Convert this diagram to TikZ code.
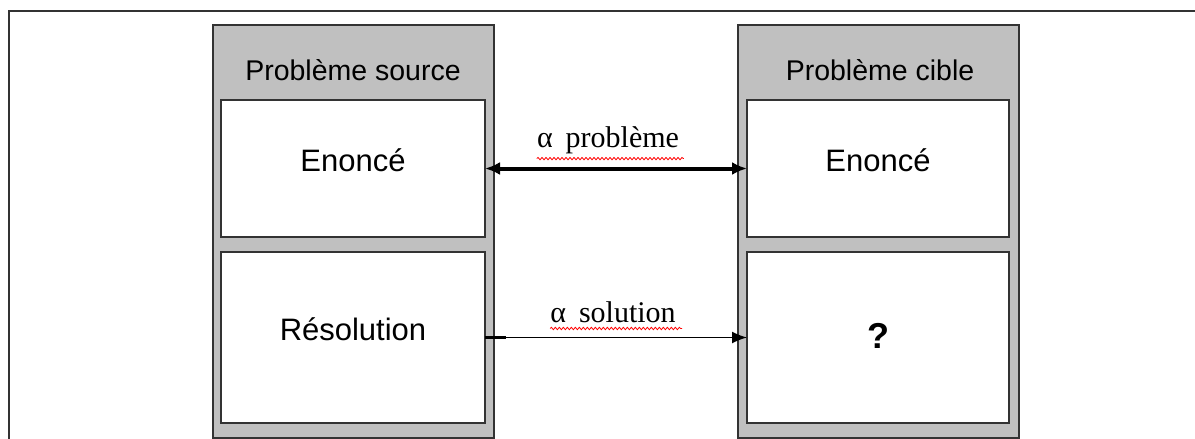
\documentclass[tikz,border=0pt]{standalone}
\usepackage{fontspec}
\setmainfont{Liberation Serif}
\newfontfamily\arialish{Liberation Sans}
\usetikzlibrary{arrows.meta,decorations.pathmorphing}

\definecolor{panelgray}{HTML}{C0C0C0}
\definecolor{edgecol}{HTML}{333333}

\tikzset{
  panel/.style={draw=edgecol, line width=2pt, fill=panelgray, inner sep=0pt, outer sep=0pt,
    minimum width=281pt, minimum height=413pt},
  cell/.style={draw=edgecol, line width=1.8pt, fill=white, inner sep=0pt, outer sep=0pt,
    minimum width=264pt},
  headtxt/.style={anchor=base, inner sep=0pt, font=\arialish\fontsize{28.5}{34}\selectfont},
  bodytxt/.style={anchor=base, inner sep=0pt, font=\arialish\fontsize{31}{37}\selectfont},
  qmark/.style={anchor=base, inner sep=0pt, font=\arialish\bfseries\fontsize{36}{42}\selectfont},
  reltxt/.style={anchor=base, inner sep=0pt, font=\fontsize{30}{36}\selectfont},
  wavy/.style={draw=red, line width=0.8pt,
    decorate, decoration={snake, amplitude=1.2pt, segment length=4pt}},
  arrowtip/.style={-{Latex[length=15pt,width=12pt]}}
}

\begin{document}
\begin{tikzpicture}[x=1pt, y=-1pt]
\useasboundingbox (0,0) rectangle (1195,439);

% outer frame (only top and left edges fall inside the page)
\draw[edgecol, line width=2pt] (9,445) -- (9,11) -- (1200,11);

% the two problem panels
\node[panel] (src) at (353.5,231.5) {};
\node[panel] (tgt) at (878.5,231.5) {};

\node[headtxt] (srctitle) at (353,80) {Problème source};
\node[headtxt] (tgttitle) at (880,80) {Problème cible};

% statement and resolution cells
\node[cell, minimum height=137pt] (srcstmt) at (353,168.5) {};
\node[cell, minimum height=171pt] (srcsol)  at (353,337.5) {};
\node[cell, minimum width=262pt, minimum height=137pt] (tgtstmt) at (878,168.5) {};
\node[cell, minimum width=262pt, minimum height=171pt] (tgtsol)  at (878,337.5) {};

\node[bodytxt] (srcstmttxt) at (353,171) {Enoncé};
\node[bodytxt] (srcsoltxt)  at (353,340) {Résolution};
\node[bodytxt] (tgtstmttxt) at (878,171) {Enoncé};
\node[qmark] (tgtsoltxt)  at (878,348) {?};

% correspondences between the two problems
\draw[line width=4pt, {Latex[length=15pt,width=13pt]}-{Latex[length=15pt,width=13pt]}]
  (srcstmt.east) -- (tgtstmt.west);
\draw[line width=1.5pt, arrowtip] (srcsol.east) -- (tgtsol.west);
\draw[line width=3.5pt] (srcsol.east) -- ++(21,0) coordinate (stubend);

\node[reltxt] (relprob) at (608,147) {α\hspace{13pt}problème};
\node[reltxt] (relsol)  at (613,322) {α\hspace{13pt}solution};

% spell-check underlines under the relation labels
\path[wavy] (relprob.south west) ++(0,5) -- ++(147,0);
\path[wavy] (relsol.south west) ++(0,6) -- ++(132,0);
\end{tikzpicture}
\end{document}
